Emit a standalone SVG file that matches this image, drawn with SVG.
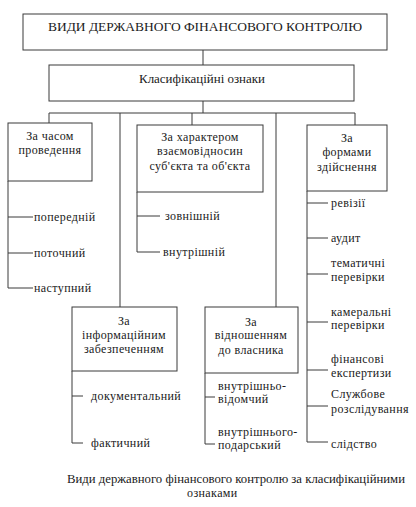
<svg xmlns="http://www.w3.org/2000/svg" width="416" height="507" viewBox="0 0 416 507" font-family="Liberation Serif, DejaVu Serif, serif">
<style>
.b{fill:#fff;stroke:#3a3a3a;stroke-width:1}
.c{fill:none;stroke:#3a3a3a;stroke-width:1}
text{font-family:'Liberation Serif','DejaVu Serif',serif;font-size:12px;letter-spacing:0.4px;fill:#1a1a1a}
.m{text-anchor:middle}
.t{letter-spacing:0}
</style>
<rect width="416" height="507" fill="#fff"/>
<g id="connectors">
<path class="c" d="M203 50V65M203 101V113M49 113H355M49 113V123M120 113V307M192 113V125M276 113V307M355 113V125"/>
<path class="c" d="M8 181V288M8 217H33M8 253H33M8 288H33"/>
<path class="c" d="M137 192V252M137 216H160M137 252H160"/>
<path class="c" d="M72 371V443M72 396H83M72 443H83"/>
<path class="c" d="M205 373V444M205 397H215M205 444H215"/>
<path class="c" d="M307 191V442M307 203H328M307 238H328M307 274H328M307 322H328M307 370H328M307 406H328M307 442H328"/>
</g>
<g id="root">
<rect class="b" x="23" y="14" width="364" height="36"/>
<text class="m t" x="205" y="31" textLength="314" lengthAdjust="spacingAndGlyphs">ВИДИ ДЕРЖАВНОГО ФІНАНСОВОГО КОНТРОЛЮ</text>
</g>
<g id="classif">
<rect class="b" x="49" y="65" width="305" height="36"/>
<text class="m t" x="202" y="83" textLength="126" lengthAdjust="spacingAndGlyphs">Класифікаційні ознаки</text>
</g>
<g id="time">
<rect class="b" x="8" y="123" width="84" height="58"/>
<text class="m" x="50" y="140">За часом</text>
<text class="m" x="50" y="154">проведення</text>
<text x="34" y="221">попередній</text>
<text x="34" y="257">поточний</text>
<text x="34" y="292">наступний</text>
</g>
<g id="character">
<rect class="b" x="137" y="125" width="126" height="67"/>
<text class="m" x="200" y="141">За характером</text>
<text class="m" x="200" y="155">взаємовідносин</text>
<text class="m" x="200" y="170">суб'єкта та об'єкта</text>
<text x="165" y="220">зовнішній</text>
<text x="163" y="256">внутрішній</text>
</g>
<g id="forms">
<rect class="b" x="307" y="125" width="80" height="66"/>
<text class="m" x="347" y="142">За</text>
<text class="m" x="347" y="156">формами</text>
<text class="m" x="347" y="171">здійснення</text>
<text x="331" y="207">ревізії</text>
<text x="331" y="242">аудит</text>
<text x="331" y="267">тематичні</text>
<text x="331" y="281">перевірки</text>
<text x="331" y="316">камеральні</text>
<text x="331" y="329">перевірки</text>
<text x="331" y="363">фінансові</text>
<text x="331" y="377">експертизи</text>
<text x="331" y="398">Службове</text>
<text x="331" y="413">розслідування</text>
<text x="331" y="448">слідство</text>
</g>
<g id="info">
<rect class="b" x="72" y="307" width="105" height="64"/>
<text class="m" x="124" y="325">За</text>
<text class="m" x="124" y="339">інформаційним</text>
<text class="m" x="124" y="353">забезпеченням</text>
<text x="91" y="400">документальний</text>
<text x="91" y="447">фактичний</text>
</g>
<g id="owner">
<rect class="b" x="205" y="307" width="93" height="66"/>
<text class="m" x="251" y="326">За</text>
<text class="m" x="251" y="339">відношенням</text>
<text class="m" x="251" y="354">до власника</text>
<text x="218" y="390">внутрішньо-</text>
<text x="218" y="403">відомчий</text>
<text x="218" y="436">внутрішнього-</text>
<text x="218" y="449">подарський</text>
</g>
<g id="caption">
<text class="t" x="67" y="483" textLength="338" lengthAdjust="spacingAndGlyphs">Види державного фінансового контролю за класифікаційними</text>
<text x="187" y="497">ознаками</text>
</g>
</svg>
